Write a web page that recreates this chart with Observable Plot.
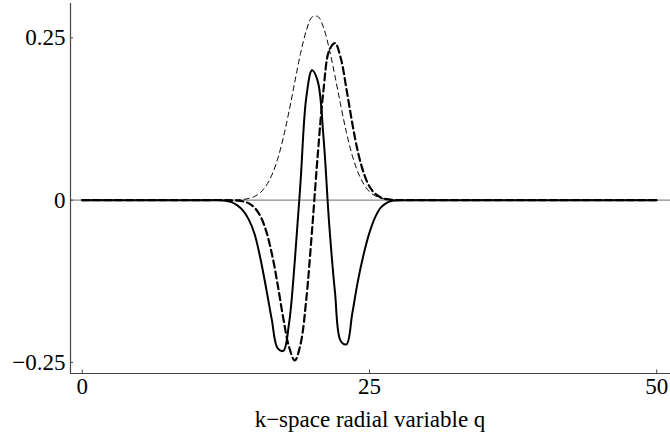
<!DOCTYPE html>
<html>
<head>
<meta charset="utf-8">
<script src="https://cdn.jsdelivr.net/npm/d3@7"></script>
<script src="https://cdn.jsdelivr.net/npm/@observablehq/plot@0.6"></script>
<style>
  html, body { margin: 0; padding: 0; background: #fff; }
  #chart svg { display: block; }
  #caption {
    width: 600px;
    margin-left: 70px;
    height: 29px;
    line-height: 29px;
    text-align: center;
    font-family: "Liberation Serif", serif;
    font-size: 23px;
    color: #000;
    white-space: nowrap;
  }
</style>
</head>
<body>
<div id="chart"></div>
<div id="caption"></div>
<script>
// Radial variable q (k-space) sample positions
const q = [0, 5, 10, 11, 12, 12.5, 13, 13.5, 14, 14.5, 15, 15.5, 16, 16.5, 17, 17.5,
  18, 18.5, 19, 19.5, 20, 20.5, 21, 21.5, 22, 22.5, 23, 23.5, 24, 24.5, 25, 25.5,
  26, 26.5, 27, 27.5, 28, 29, 30, 40, 50];

// Envelope (thin dashed)
const envelope = [0, 0, 0, 0, 0, 0.0001, 0.0002, 0.0005, 0.0012, 0.0027, 0.0058, 0.0117,
  0.022, 0.0386, 0.063, 0.0962, 0.137, 0.182, 0.226, 0.261, 0.282, 0.283, 0.266, 0.233,
  0.191, 0.146, 0.104, 0.069, 0.043, 0.0248, 0.013, 0.0067, 0.003, 0.0014, 0.0005,
  0.0002, 0, 0, 0, 0, 0];

// First-order component (thick dashed)
const firstOrder = [0, 0, 0, 0, 0, 0, -0.0002, -0.0007, -0.0019, -0.0049, -0.0115,
  -0.0245, -0.047, -0.082, -0.129, -0.182, -0.226, -0.247, -0.222, -0.153, -0.047,
  0.070, 0.170, 0.231, 0.242, 0.219, 0.171, 0.119, 0.074, 0.042, 0.021, 0.0098,
  0.0041, 0.0016, 0.0005, 0.0001, 0, 0, 0, 0, 0];

// Second-order component (solid)
const secondOrder = [0, 0, 0, 0, 0, -0.001, -0.003, -0.008, -0.016, -0.030, -0.052,
  -0.089, -0.135, -0.184, -0.228, -0.232, -0.190, -0.094, 0.028, 0.158, 0.200, 0.183,
  0.097, -0.038, -0.142, -0.217, -0.222, -0.175, -0.124, -0.083, -0.050, -0.026,
  -0.011, -0.004, -0.001, 0, 0, 0, 0, 0, 0];

const xTicks = [0, 25, 50];
const yTicks = [-0.25, 0, 0.25];
const xLabel = "k\u2212space radial variable q";

const xDomain = [-1.02, 51.2];
const yDomain = [-0.267, 0.303];

const rows = (vals) => q.map((x, i) => ({ q: x, v: vals[i] }));

const W = 670, H = 405;
const mL = 70, mR = 0, mT = 3, mB = 32;
const plotW = W - mL - mR, plotH = H - mT - mB;
const serif = "Liberation Serif";

const chart = Plot.plot({
  width: W,
  height: H,
  marginLeft: mL,
  marginRight: mR,
  marginTop: mT,
  marginBottom: mB,
  x: { domain: xDomain },
  y: { domain: yDomain },
  marks: [
    // zero baseline
    Plot.ruleY([0], { stroke: "#8a8a8a", strokeWidth: 1.2 }),
    // curves
    Plot.line(rows(envelope), { x: "q", y: "v", curve: "catmull-rom", stroke: "#000",
      strokeWidth: 1, strokeDasharray: "5,4" }),
    Plot.line(rows(firstOrder), { x: "q", y: "v", curve: "catmull-rom", stroke: "#000",
      strokeWidth: 2.2, strokeDasharray: "7,4" }),
    Plot.line(rows(secondOrder), { x: "q", y: "v", curve: "catmull-rom", stroke: "#000",
      strokeWidth: 2 }),
    // axis lines
    Plot.ruleX([xDomain[0]], { stroke: "#444", strokeWidth: 1.2 }),
    Plot.ruleY([yDomain[0]], { stroke: "#444", strokeWidth: 1.2 }),
    // inward tick marks
    Plot.tickY(yTicks, { y: d => d, stroke: "#444", insetRight: plotW - 3 }),
    Plot.tickX(xTicks, { x: d => d, stroke: "#444", insetTop: plotH - 3.5 }),
    // tick labels
    Plot.axisY(yTicks, { tickSize: 0, tickPadding: 5, label: null, fontFamily: serif,
      fontSize: 23, fill: "#000",
      tickFormat: d => d === 0 ? "0" : d.toFixed(2).replace("-", "\u2212") }),
    Plot.axisX(xTicks, { tickSize: 0, tickPadding: 4, label: null, fontFamily: serif,
      fontSize: 23, fill: "#000", tickFormat: d => String(d) })
  ]
});

document.getElementById("chart").appendChild(chart);
// axis title below the plot
document.getElementById("caption").textContent = xLabel;
</script>
</body>
</html>
